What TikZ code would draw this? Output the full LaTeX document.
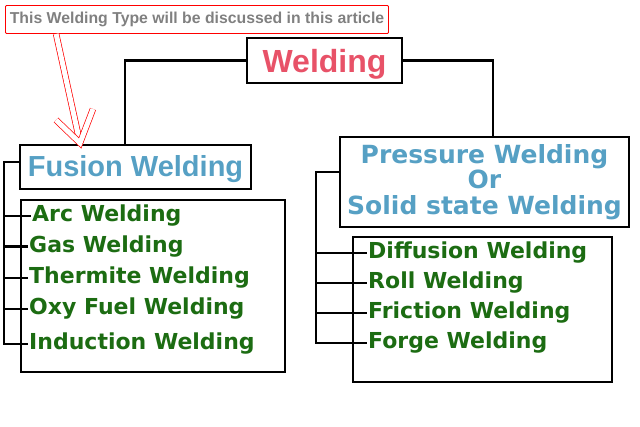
\documentclass[tikz,border=0pt]{standalone}
\usepackage{fontspec}
\setmainfont{Liberation Sans}
\newfontfamily\vera{DejaVu Sans}
\usepackage{xcolor}
\usepackage{tikz}
\definecolor{WeldRed}{RGB}{232, 82, 104}
\definecolor{WeldBlue}{RGB}{86, 160, 196}
\definecolor{WeldGreen}{RGB}{28, 108, 18}
\definecolor{NoteGray}{RGB}{128, 128, 128}
\tikzset{
    box/.style={draw=black, line width=2pt, inner sep=0pt},
    conn/.style={line width=2.6pt, line cap=rect},
    item/.style={anchor=base west, inner sep=2pt, text=WeldGreen, font=\vera\bfseries\fontsize{22}{26}\selectfont},
    hollow/.style={draw=red, double=white, double distance=5pt, line width=0.7pt}
}

\begin{document}
\begin{tikzpicture}[x=1pt, y=-1pt]
    \useasboundingbox (0,0) rectangle (640,427);

    % Note with arrow
    \node[draw=red, line width=0.8pt, rounded corners=1pt, minimum width=383, minimum height=28, text=NoteGray, font=\bfseries\fontsize{15.8}{18}\selectfont] (note) at (197,19.5) {This Welding Type will be discussed in this article};

    % Top level
    \node[box, minimum width=155, minimum height=45, text depth=0pt, text=WeldRed, font=\bfseries\fontsize{32}{36}\selectfont] (welding) at (324.5,60.5) {Welding};

    % Fusion side
    \node[box, minimum width=231, minimum height=44, text depth=3pt, text=WeldBlue, font=\bfseries\fontsize{29}{33}\selectfont] (fusion) at (135.5,167) {Fusion Welding};
    \node[box, minimum width=264, minimum height=172] (fusionlist) at (153,286) {};
    \node[item] (arc) at (30,222) {Arc Welding};
    \node[item] (gas) at (27,252.5) {Gas Welding};
    \node[item] (thermite) at (27,284) {Thermite Welding};
    \node[item] (oxy) at (27,315) {Oxy Fuel Welding};
    \node[item] (induction) at (27,350) {Induction Welding};

    % Pressure side
    \node[box, minimum width=289, minimum height=90, align=center, text=WeldBlue, font=\vera\bfseries\fontsize{25}{25.5}\selectfont] (pressure) at (484.5,182) {Pressure Welding\\Or\\Solid state Welding};
    \node[box, minimum width=259, minimum height=145] (pressurelist) at (482.5,309.5) {};
    \node[item] (diffusion) at (366,259) {Diffusion Welding};
    \node[item] (roll) at (366,289) {Roll Welding};
    \node[item] (friction) at (366,319) {Friction Welding};
    \node[item] (forge) at (366,349) {Forge Welding};

    % Branches
    \draw[conn] (welding.west) -| ([xshift=106pt]fusion.north west);
    \draw[conn] (welding.east) -| ([xshift=154pt]pressure.north west);

    \coordinate (lspine) at (4,0);
    \draw[conn] ([yshift=5pt]fusion.west) -| (lspine |- induction.west) -- (induction.west);
    \foreach \n in {arc,gas,thermite,oxy}
        \draw[conn] (lspine |- \n.west) -- (\n.west);

    \coordinate (rspine) at (316,0);
    \draw[conn] ([yshift=10pt]pressure.west) -| (rspine |- forge.west) -- (forge.west);
    \foreach \n in {diffusion,roll,friction}
        \draw[conn] (rspine |- \n.west) -- (\n.west);

    % Hollow arrow
    \coordinate (tip) at ([xshift=61pt, yshift=1pt]fusion.north west);
    \draw[hollow] ([xshift=51pt]note.south west) -- (tip);
    \draw[hollow] ([shift={(-24,-23)}]tip) -- (tip) -- ([shift={(13,-34)}]tip);
\end{tikzpicture}
\end{document}
